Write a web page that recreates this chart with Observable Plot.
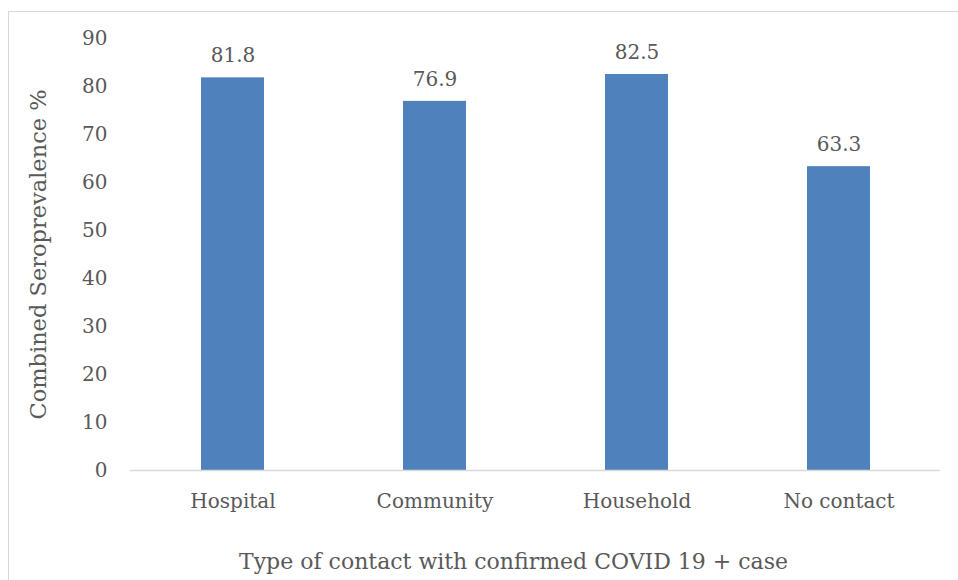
<!DOCTYPE html>
<html>
<head>
<meta charset="utf-8">
<script src="https://cdn.jsdelivr.net/npm/d3@7"></script>
<script src="https://cdn.jsdelivr.net/npm/@observablehq/plot@0.6"></script>
<style>
  html, body { margin: 0; padding: 0; background: #fff; }
  #wrap { position: relative; width: 958px; height: 580px; overflow: hidden; background: #fff; }
  #frame { position: absolute; left: 8px; top: 11px; width: 1000px; height: 1000px; border: 1px solid #d9d9d9; box-sizing: border-box; }
  #chart { position: absolute; left: 0; top: 0; }
</style>
</head>
<body>
<div id="wrap"><div id="frame"></div><div id="chart"></div></div>
<script>
// Combined seroprevalence by type of contact with a confirmed COVID 19 + case
const contactTypes = ["Hospital", "Community", "Household", "No contact"];
const seroprevalence = [81.8, 76.9, 82.5, 63.3];
const yTicks = [0, 10, 20, 30, 40, 50, 60, 70, 80, 90];

const data = contactTypes.map((c, i) => ({contact: c, value: seroprevalence[i]}));

const font = "'DejaVu Serif', serif";
const ink = "#595959";

const chart = Plot.plot({
  width: 958,
  height: 580,
  marginLeft: 130,
  marginRight: 18,
  marginTop: 38,
  marginBottom: 110,
  style: {fontFamily: font, color: ink, background: "transparent", overflow: "visible"},
  x: {domain: contactTypes, paddingInner: 0.69, paddingOuter: 0.345, label: null},
  y: {domain: [0, 90], label: null},
  marks: [
    Plot.barY(data, {x: "contact", y: "value", fill: "#4f81bd"}),
    Plot.ruleY([0], {stroke: "#d9d9d9", strokeWidth: 1.5}),
    Plot.text(data, {
      x: "contact", y: "value", text: d => d.value.toFixed(1),
      dy: -22, fontSize: 20, fill: ink, fontFamily: font
    }),
    Plot.axisY({
      ticks: yTicks, tickSize: 0, tickPadding: 23, fontSize: 20,
      fill: ink, label: null, tickFormat: d => String(d)
    }),
    Plot.axisX({
      tickSize: 0, tickPadding: 23, fontSize: 20, fill: ink, label: null
    }),
    Plot.text(["Combined Seroprevalence %"], {
      frameAnchor: "left", textAnchor: "middle", dx: -92, rotate: -90,
      fontSize: 22.5, fill: ink, fontFamily: font
    }),
    Plot.text(["Type of contact with confirmed COVID 19 + case"], {
      frameAnchor: "bottom", dx: -22, dy: 98, fontSize: 22, fill: ink, fontFamily: font
    })
  ]
});
document.getElementById("chart").appendChild(chart);
</script>
</body>
</html>
